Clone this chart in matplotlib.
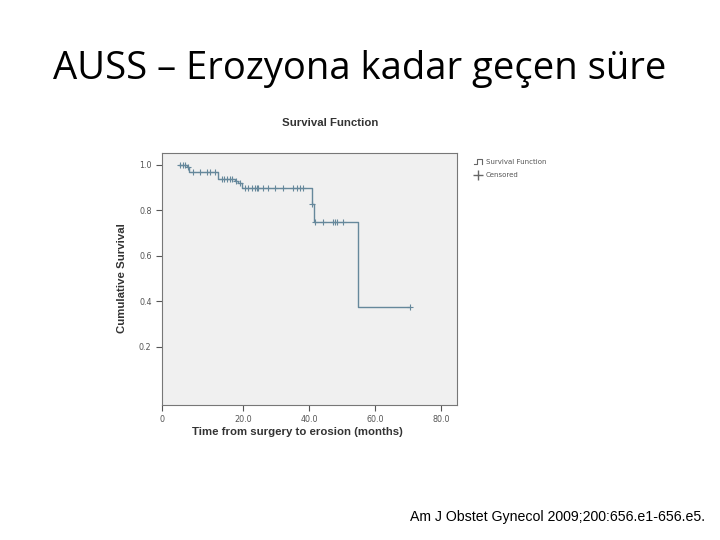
import matplotlib
matplotlib.use("Agg")
from matplotlib import pyplot as plt
from matplotlib.lines import Line2D
from matplotlib.legend_handler import HandlerBase

# Kaplan-Meier step data (months, cumulative survival)
step_times = [0.5, 3.0, 3.6, 12.4, 17.6, 18.5, 19.7, 40.8, 41.5, 54.9]
step_surv = [1.0, 0.99, 0.97, 0.94, 0.93, 0.92, 0.90, 0.83, 0.75, 0.375]
last_time = 70.4

# censored observations
cens_times = [1.0, 2.0, 2.6, 3.3,
              4.8, 7.0, 9.0, 10.0, 11.5,
              13.6, 14.4, 15.2, 16.0, 16.7, 18.0, 19.0,
              20.6, 21.5, 22.7, 23.6, 24.2, 24.5, 26.0, 27.6, 29.7, 32.0,
              35.0, 36.4, 37.3, 38.2,
              41.0,
              41.8, 44.2, 47.3, 47.9, 48.5, 50.3,
              70.4]
cens_surv = [1.0, 1.0, 1.0, 0.99,
             0.97, 0.97, 0.97, 0.97, 0.97,
             0.94, 0.94, 0.94, 0.94, 0.94, 0.93, 0.92,
             0.90, 0.90, 0.90, 0.90, 0.90, 0.90, 0.90, 0.90, 0.90, 0.90,
             0.90, 0.90, 0.90, 0.90,
             0.83,
             0.75, 0.75, 0.75, 0.75, 0.75, 0.75,
             0.375]

x_ticks = [20, 40, 60, 80]
y_ticks = [0.2, 0.4, 0.6, 0.8, 1.0]

line_color = "#66889b"


class StepHandler(HandlerBase):
    # small step-shaped legend icon like SPSS
    def create_artists(self, legend, orig_handle, xd, yd, width, height, fontsize, trans):
        xs = [xd + width * 0.1, xd + width * 0.4, xd + width * 0.4, xd + width * 0.8, xd + width * 0.8]
        ys = [yd, yd, yd + height * 1.1, yd + height * 1.1, yd]
        line = Line2D(xs, ys, color="#666666", lw=0.8, transform=trans)
        return [line]


fig = plt.figure(figsize=(7.2, 5.4), dpi=100)

fig.text(0.5, 0.873, "AUSS \u2013 Erozyona kadar geçen süre", ha="center", va="center",
         fontsize=27.5, family="Open Sans", color="black")

ax = fig.add_axes([0.225, 0.25, 0.41, 0.467])
ax.set_facecolor("#f0f0f0")

xs = step_times + [last_time]
ys = step_surv + [step_surv[-1]]
ax.step(xs, ys, where="post", color=line_color, lw=1.0)
ax.plot(cens_times, cens_surv, linestyle="none", marker="+", markersize=4,
        markeredgewidth=0.8, color=line_color)

ax.set_xlim(-4.5, 84.8)
ax.set_ylim(-0.055, 1.053)
ax.set_xticks([-4.5] + x_ticks)
ax.set_xticklabels(["0"] + [f"{t:.1f}" for t in x_ticks])
ax.set_yticks(y_ticks)
ax.set_yticklabels([f"{t:.1f}" for t in y_ticks])
ax.tick_params(axis="both", labelsize=5.8, colors="#555555", length=4, width=0.8,
               labelcolor="#555555")
for spine in ax.spines.values():
    spine.set_color("#777777")
    spine.set_linewidth(0.8)

fig.text(0.458, 0.772, "Survival Function", ha="center", va="center", fontsize=8.2,
         fontweight="bold", color="#333333", family="Liberation Sans")
ax.set_ylabel("Cumulative Survival", fontsize=8.2, fontweight="bold", color="#333333",
              family="Liberation Sans")
ax.yaxis.set_label_coords(-0.12, 0.504)
ax.set_xlabel("Time from surgery to erosion (months)", fontsize=8.2, fontweight="bold",
              color="#333333", family="Liberation Sans")
ax.xaxis.set_label_coords(0.458, -0.088)

handles = [Line2D([], [], color="#666666"),
           Line2D([], [], linestyle="none", marker="+", color="#666666", markersize=7)]
leg = fig.legend(handles, ["Survival Function", "Censored"], loc="upper left",
                 bbox_to_anchor=(0.648, 0.717), frameon=False, fontsize=5,
                 handler_map={handles[0]: StepHandler()}, handlelength=1.6,
                 labelspacing=1.0, handletextpad=0.3)
for t in leg.get_texts():
    t.set_color("#555555")

fig.text(0.979, 0.043, "Am J Obstet Gynecol 2009;200:656.e1-656.e5.", ha="right",
         va="center", fontsize=10.2, family="Liberation Sans", color="black")

fig.savefig("out.png", dpi=100)
plt.close(fig)
